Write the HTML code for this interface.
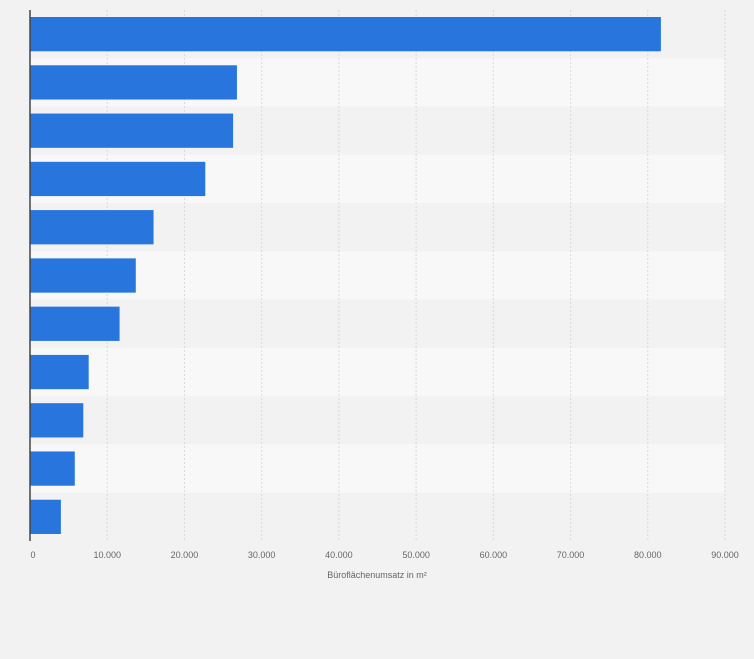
<!DOCTYPE html>
<html><head><meta charset="utf-8"><style>
html,body{margin:0;padding:0;background:#f2f2f2;width:754px;height:659px;overflow:hidden}
svg{display:block;font-family:"Liberation Sans",sans-serif}
</style></head><body>
<svg id="chart" width="754" height="659" xmlns="http://www.w3.org/2000/svg">
<rect width="754" height="659" fill="#f2f2f2"/>
<g id="bands"></g><g id="grid"></g><g id="bars"></g><g id="ticks"></g>
<line x1="30" y1="10" x2="30" y2="541" stroke="#444" stroke-width="1.5"/>
<text x="377" y="578" font-size="9" fill="#666" text-anchor="middle">Büroflächenumsatz in m²</text>
</svg>
<script>
const categories = ["c1","c2","c3","c4","c5","c6","c7","c8","c9","c10","c11"];
const values = [81700, 26800, 26300, 22700, 16000, 13700, 11600, 7600, 6900, 5800, 4000];
const tickValues = [0,10000,20000,30000,40000,50000,60000,70000,80000,90000];
const tickLabels = ["0","10.000","20.000","30.000","40.000","50.000","60.000","70.000","80.000","90.000"];
const NS="http://www.w3.org/2000/svg";
const x0=30,x1=725,xmax=90000,plotTop=10,plotBottom=541;
const xs=v=>x0+(v/xmax)*(x1-x0);
const rowH=(plotBottom-plotTop)/categories.length;
const ys=i=>plotTop+i*rowH;
function mk(t,a){const e=document.createElementNS(NS,t);for(const k in a)e.setAttribute(k,a[k]);return e;}
const bands=document.getElementById('bands'),grid=document.getElementById('grid'),bars=document.getElementById('bars'),ticks=document.getElementById('ticks');
categories.forEach((c,i)=>{
  const r=mk('rect',{x:x0,y:ys(i),width:x1-x0,height:rowH,fill:i%2?'#f8f8f8':'#f2f2f2'});
  
  
  bands.appendChild(r);
});
tickValues.forEach((v,i)=>{
  if(v>0){
    const l=mk('line',{x1:xs(v),x2:xs(v),y1:plotTop,y2:plotBottom,stroke:'#d8d8d8','stroke-dasharray':'2,2'});
    
    
    grid.appendChild(l);
  }
  const t=mk('text',{x:v===0?xs(v)+3:xs(v),y:558,'font-size':9,fill:'#666','text-anchor':'middle'});
  t.textContent=tickLabels[i];
  
  
  ticks.appendChild(t);
});
values.forEach((v,i)=>{
  const b=mk('rect',{x:x0,y:ys(i)+7,width:xs(v)-x0,height:rowH-14,fill:'#2876dd'});
  
  
  bars.appendChild(b);
});
</script>
</body></html>
